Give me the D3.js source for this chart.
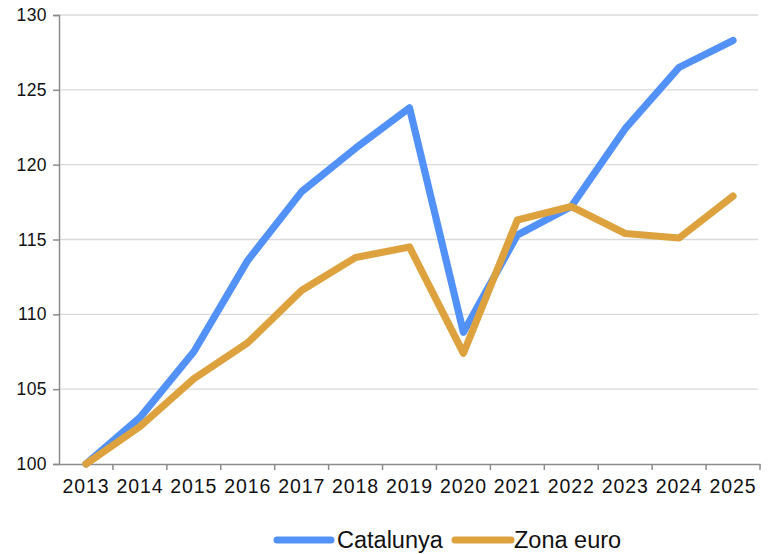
<!DOCTYPE html>
<html><head><meta charset="utf-8">
<script src="https://cdn.jsdelivr.net/npm/d3@7"></script>
<style>body{margin:0;background:#fff}svg{display:block;font-family:"Liberation Sans",Arial,sans-serif}</style>
</head><body><svg id="c" width="771" height="554"></svg>
<script>
const years = ["2013","2014","2015","2016","2017","2018","2019","2020","2021","2022","2023","2024","2025"];
const catalunya = [100,103.1,107.5,113.6,118.2,121.1,123.8,108.8,115.3,117.2,122.4,126.5,128.3];
const zonaEuro = [100,102.5,105.7,108.1,111.6,113.8,114.5,107.4,116.3,117.2,115.4,115.1,117.9];
const yTicks = [100,105,110,115,120,125,130];
const seriesNames = ["Catalunya","Zona euro"];
const colors = ["#5291F8","#DDA23E"];

const svg = d3.select("#c");
const pL = 59, pR = 760, pT = 15, pB = 464;
const x = d3.scaleBand().domain(years).range([pL, pR]);
const y = d3.scaleLinear().domain([100,130]).range([pB, pT]);

// grid
svg.append("g").selectAll("line").data(yTicks.slice(1)).join("line")
  .attr("x1", pL).attr("x2", 758).attr("y1", d=>y(d)).attr("y2", d=>y(d))
  .attr("stroke","#d9d9d9").attr("stroke-width",1.3);

// y axis
const ya = svg.append("g").attr("transform",`translate(${pL},0)`)
  .call(d3.axisLeft(y).tickValues(yTicks).tickSize(6).tickPadding(6));
ya.select(".domain").attr("stroke","#8c8c8c").attr("stroke-width",1.5);
ya.selectAll(".tick line").attr("stroke","#8c8c8c").attr("stroke-width",1.5);
ya.selectAll("text").attr("font-size",17.5).attr("letter-spacing","0.4px").attr("fill","#111").attr("font-family","Liberation Sans, Arial, sans-serif");

// x axis
const xa = svg.append("g").attr("transform",`translate(0,${pB})`)
  .call(d3.axisBottom(x).tickSize(0).tickPadding(15));
xa.select(".domain").attr("stroke","#8c8c8c").attr("stroke-width",1.5);
xa.selectAll("text").attr("font-size",19.5).attr("letter-spacing","0.9px").attr("fill","#111").attr("font-family","Liberation Sans, Arial, sans-serif");
// boundary ticks
const bounds = years.map(d=>x(d)).concat([x(years[years.length-1])+x.bandwidth()]);
svg.append("g").selectAll("line").data(bounds.slice(1)).join("line")
  .attr("x1",d=>d).attr("x2",d=>d).attr("y1",pB).attr("y2",pB+6)
  .attr("stroke","#8c8c8c").attr("stroke-width",1.5);

const cx = d => x(d) + x.bandwidth()/2;
const line = d3.line().x((d,i)=>cx(years[i])).y(d=>y(d));
[catalunya, zonaEuro].forEach((s,k)=>{
  svg.append("path").attr("d", line(s)).attr("fill","none")
    .attr("stroke", colors[k]).attr("stroke-width",7.2)
    .attr("stroke-linecap","round").attr("stroke-linejoin","round");
});

// legend
const lg = [{x1:277,x2:331,tx:337},{x1:455,x2:511,tx:514}];
seriesNames.forEach((n,k)=>{
  svg.append("line").attr("x1",lg[k].x1).attr("x2",lg[k].x2).attr("y1",540).attr("y2",540)
    .attr("stroke",colors[k]).attr("stroke-width",7).attr("stroke-linecap","round");
  svg.append("text").attr("x",lg[k].tx).attr("y",547.5).attr("font-size",23.5).attr("fill","#111").text(n);
});
</script></body></html>
